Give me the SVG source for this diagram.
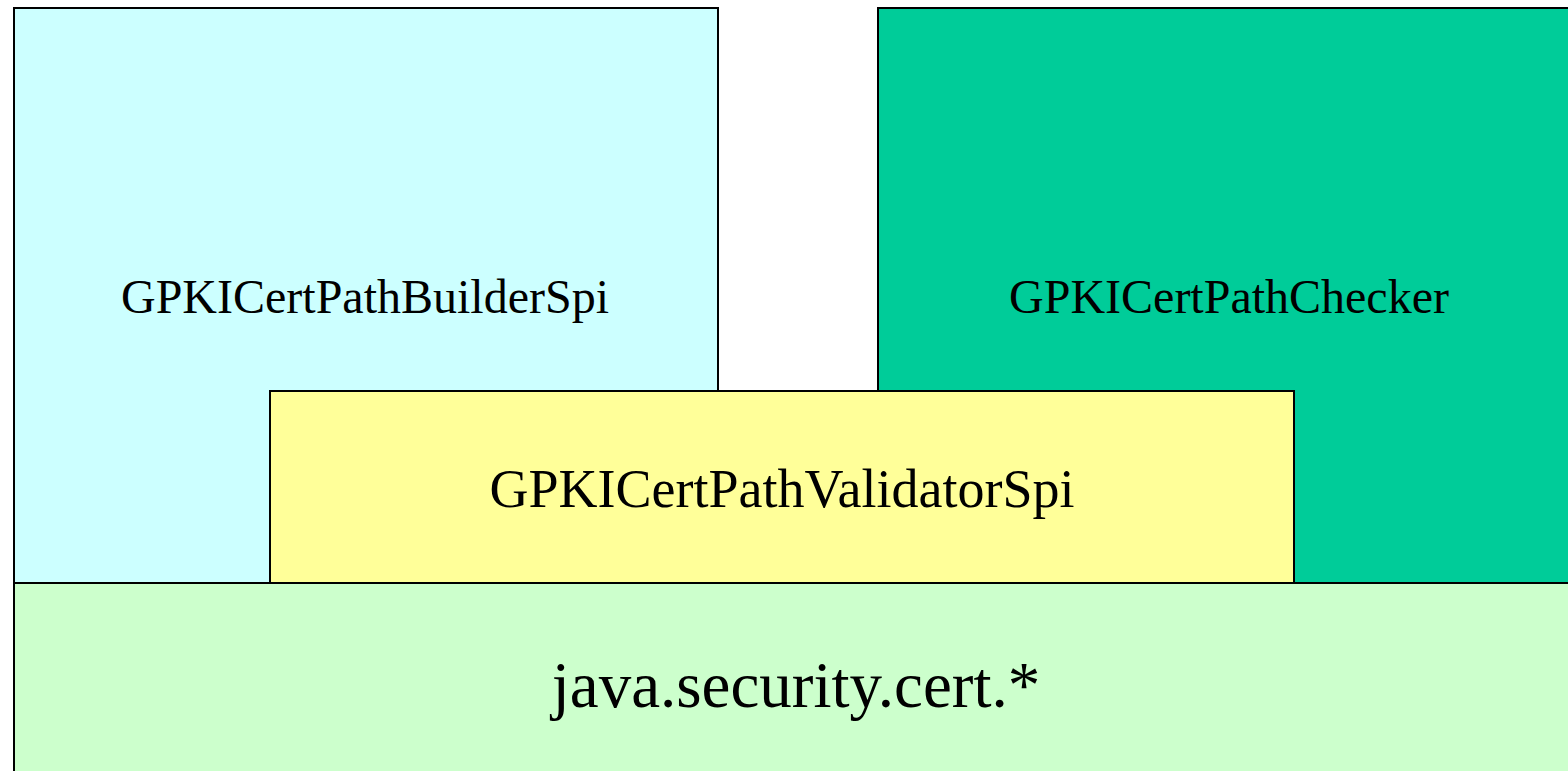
<svg xmlns="http://www.w3.org/2000/svg" width="1568" height="771" viewBox="0 0 1568 771">
<style>
.box{stroke:#000;stroke-width:2}
.t{font-family:"Liberation Serif","Times New Roman",serif;fill:#000;text-anchor:middle}
</style>
<rect width="1568" height="771" fill="#fff"/>
<g id="builder"><rect class="box" x="14" y="8" width="704" height="575" fill="#CCFFFF"/><text class="t" x="365" y="313" font-size="48">GPKICertPathBuilderSpi</text></g>
<g id="checker"><rect class="box" x="878" y="8" width="700" height="575" fill="#00CC99"/><text class="t" x="1229" y="313" font-size="48">GPKICertPathChecker</text></g>
<g id="validator"><rect class="box" x="270" y="391" width="1024" height="192" fill="#FFFF99"/><text class="t" x="782" y="507" font-size="54">GPKICertPathValidatorSpi</text></g>
<g id="javacert"><rect class="box" x="14" y="583" width="1564" height="200" fill="#CCFFCC"/><text class="t" x="796" y="707" font-size="65">java.security.cert.*</text></g>
<g id="connectors"></g>
</svg>
